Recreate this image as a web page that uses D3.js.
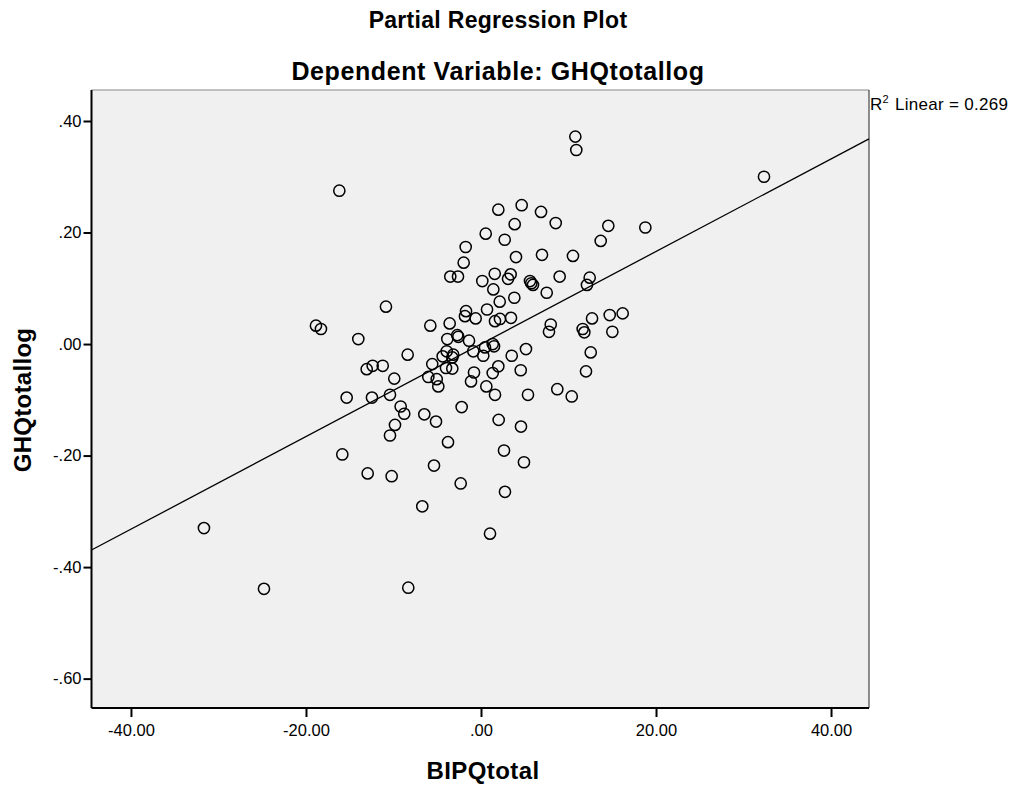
<!DOCTYPE html>
<html>
<head>
<meta charset="utf-8">
<script src="https://cdn.jsdelivr.net/npm/d3@7"></script>
<style>
  body { margin: 0; background: #fff; }
  text { font-family: "Liberation Sans", Arial, sans-serif; }
</style>
</head>
<body>
<div id="chart"></div>
<script>
// residuals
var bipq = [
  -16.19, -10.86, -18.86, -18.29, -14.02, 10.78, 10.89, 1.98, 4.65, 6.86,
  8.54, 3.85, 0.54, 2.71, 14.55, 18.78, 13.68, -1.75, -1.98, 4.00,
  6.97, 10.51, -3.51, -2.63, 0.15, 1.57, 3.39, 3.09, 5.60, 5.75,
  5.94, 8.99, 12.42, 12.11, 1.41, 7.51, 3.81, 2.14, 0.69, -1.71,
  -1.83, -0.61, 1.60, 2.17, 3.43, -5.79, -3.58, 7.97, 7.77, 12.69,
  14.71, 16.19, 11.62, 11.81, 15.01, -3.85, -2.71, -2.59, -1.37, 0.46,
  1.34, 1.49, 5.14, 12.54, -0.88, 0.26, 3.51, -3.92, -4.38, -3.17,
  -3.28, -5.57, -4.00, -3.28, -6.02, -5.06, -4.88, -0.80, 1.98, 1.34,
  4.54, -1.14, 0.61, 1.60, 5.37, 8.72, 10.37, 12.00, -2.21, -6.48,
  -5.14, 2.02, 4.57, -3.77, 2.63, 4.91, -5.37, -2.32, 2.74, -6.71,
  1.03, -8.38, -13.06, -12.38, -11.23, -9.91, -15.35, -12.46, -10.40, -9.18,
  -8.77, -9.83, -10.40, -15.85, -12.95, -10.21, -31.66, -24.80, -8.31, 32.34
];
var ghq = [
  0.275, 0.067, 0.033, 0.027, 0.009, 0.372, 0.348, 0.241, 0.249, 0.237,
  0.217, 0.215, 0.198, 0.187, 0.212, 0.209, 0.185, 0.174, 0.146, 0.156,
  0.160, 0.158, 0.121, 0.121, 0.113, 0.126, 0.125, 0.117, 0.113, 0.109,
  0.106, 0.121, 0.119, 0.106, 0.098, 0.092, 0.083, 0.076, 0.062, 0.059,
  0.050, 0.046, 0.041, 0.045, 0.047, 0.033, 0.037, 0.035, 0.022, 0.046,
  0.052, 0.055, 0.027, 0.021, 0.022, 0.009, 0.016, 0.013, 0.006, -0.006,
  0.000, -0.004, -0.009, -0.015, -0.013, -0.021, -0.021, -0.013, -0.022, -0.019,
  -0.024, -0.036, -0.043, -0.044, -0.059, -0.063, -0.076, -0.051, -0.040, -0.052,
  -0.047, -0.067, -0.076, -0.091, -0.091, -0.081, -0.094, -0.049, -0.113, -0.126,
  -0.139, -0.136, -0.148, -0.176, -0.191, -0.212, -0.218, -0.250, -0.265, -0.291,
  -0.340, -0.019, -0.045, -0.039, -0.039, -0.062, -0.096, -0.096, -0.091, -0.112,
  -0.125, -0.145, -0.164, -0.198, -0.232, -0.237, -0.330, -0.439, -0.437, 0.300
];
var xTicks = [-40, -20, 0, 20, 40];
var yTicks = [0.4, 0.2, 0, -0.2, -0.4, -0.6];
var fitSlope = 0.0083, fitIntercept = 0.0;
var rSquared = "0.269";

var width = 1014, height = 787;
var frame = { left: 91.5, right: 869, top: 90, bottom: 708 };

var svg = d3.select('#chart').append('svg')
  .attr('width', width)
  .attr('height', height);

var x = d3.scaleLinear().domain([-44.51, 44.34]).range([frame.left, frame.right]);
var y = d3.scaleLinear().domain([0.4556, -0.6527]).range([frame.top, frame.bottom]);

// SPSS style: -.40, .00, 20.00
function fmt(v) {
  var a = Math.abs(v) < 1e-9 ? 0 : v;
  var s = Math.abs(a).toFixed(2).replace(/^0\./, '.');
  return (a < 0 ? '-' : '') + s;
}

// plot background
svg.append('rect')
  .attr('x', frame.left).attr('y', frame.top)
  .attr('width', frame.right - frame.left)
  .attr('height', frame.bottom - frame.top)
  .attr('fill', '#f0f0f0')
  .attr('stroke', 'none');

svg.append('line')
  .attr('x1', frame.left).attr('x2', frame.right)
  .attr('y1', frame.top).attr('y2', frame.top)
  .attr('stroke', '#888').attr('stroke-width', 1);
svg.append('line')
  .attr('x1', frame.right).attr('x2', frame.right)
  .attr('y1', frame.top).attr('y2', frame.bottom)
  .attr('stroke', '#222').attr('stroke-width', 1);

// fit line
var plot = svg.append('g');
var xd = x.domain();
plot.append('line')
  .attr('x1', x(xd[0])).attr('y1', y(fitIntercept + fitSlope * xd[0]))
  .attr('x2', x(xd[1])).attr('y2', y(fitIntercept + fitSlope * xd[1]))
  .attr('stroke', '#000').attr('stroke-width', 1.3);

plot.selectAll('circle.pt').data(bipq)
  .enter().append('circle')
  .attr('class', 'pt')
  .attr('cx', function(d) { return x(d); })
  .attr('cy', function(d, i) { return y(ghq[i]); })
  .attr('r', 5.6)
  .attr('fill', 'none')
  .attr('stroke', '#000')
  .attr('stroke-width', 1.5);

// axes
var xAxis = svg.append('g')
  .attr('transform', 'translate(0,' + frame.bottom + ')')
  .call(d3.axisBottom(x).tickValues(xTicks).tickFormat(fmt).tickSize(9).tickPadding(7));
var yAxis = svg.append('g')
  .attr('transform', 'translate(' + frame.left + ',0)')
  .call(d3.axisLeft(y).tickValues(yTicks).tickFormat(fmt).tickSize(8).tickPadding(2));

[xAxis, yAxis].forEach(function(g) {
  g.select('.domain').attr('stroke', '#000').attr('stroke-width', 2);
  g.selectAll('.tick line').attr('stroke', '#000').attr('stroke-width', 2);
  g.selectAll('.tick text')
    .attr('fill', '#000')
    .style('font-size', '16.5px')
    .style('font-family', '"Liberation Sans", Arial, sans-serif');
});
xAxis.select('.domain').attr('d', 'M' + frame.left + ',0H' + frame.right);
yAxis.select('.domain').attr('d', 'M0,' + frame.top + 'V' + frame.bottom);

// titles
svg.append('text')
  .attr('x', 498).attr('y', 28)
  .attr('text-anchor', 'middle')
  .style('font-size', '23px').style('font-weight', 'bold')
  .style('letter-spacing', '0.3px')
  .text('Partial Regression Plot');
svg.append('text')
  .attr('x', 498).attr('y', 80)
  .attr('text-anchor', 'middle')
  .style('font-size', '25px').style('font-weight', 'bold')
  .style('letter-spacing', '0.6px')
  .text('Dependent Variable: GHQtotallog');

svg.append('text')
  .attr('x', 483).attr('y', 779)
  .attr('text-anchor', 'middle')
  .style('font-size', '24px').style('font-weight', 'bold')
  .style('letter-spacing', '0.4px')
  .text('BIPQtotal');
svg.append('text')
  .attr('transform', 'translate(31,400) rotate(-90)')
  .attr('text-anchor', 'middle')
  .style('font-size', '24px').style('font-weight', 'bold')
  .style('letter-spacing', '0.3px')
  .text('GHQtotallog');

// R squared note
var note = svg.append('text')
  .attr('x', 870).attr('y', 110)
  .style('font-size', '17px')
  .style('letter-spacing', '0.3px');
note.append('tspan').text('R');
note.append('tspan').attr('dy', -7).style('font-size', '11px').text('2');
note.append('tspan').attr('dy', 7).attr('dx', 6).text('Linear = ' + rSquared);
</script>
</body>
</html>
